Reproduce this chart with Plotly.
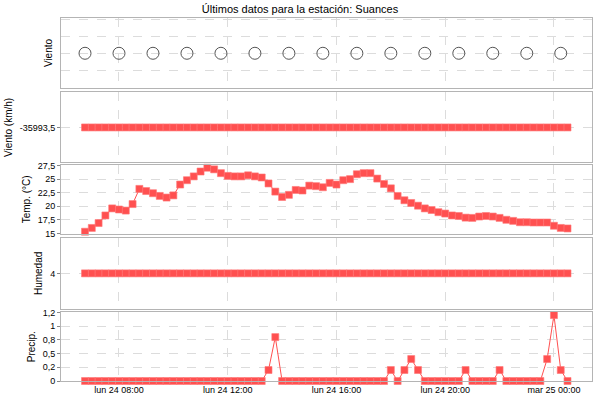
import pandas as pd
import plotly.graph_objects as go
from plotly.subplots import make_subplots

# Datos de la estación (cada 15 minutos)
horas = pd.date_range("2013-06-24 06:45", periods=72, freq="15min")

temperatura = [
    15.3, 16.0, 16.9, 18.3, 19.6, 19.4, 19.2, 20.4, 23.2, 22.8, 22.4, 21.9,
    21.6, 22.0, 24.0, 24.8, 25.5, 26.4, 27.1, 26.8, 26.1, 25.6, 25.5, 25.5,
    25.7, 25.5, 25.3, 24.2, 22.7, 21.7, 22.1, 23.0, 22.9, 23.8, 23.7, 23.5,
    24.3, 24.0, 24.8, 25.0, 25.9, 26.1, 26.1, 25.1, 24.1, 23.3, 21.9, 21.1,
    20.6, 20.1, 19.6, 19.3, 18.9, 18.65, 18.3, 18.2, 17.9, 17.85, 18.1, 18.2,
    18.1, 17.85, 17.5, 17.3, 17.05, 17.05, 17.0, 17.0, 17.0, 16.4, 16.0, 15.9,
]

precipitacion = [
    0, 0, 0, 0, 0, 0, 0, 0, 0, 0, 0, 0,
    0, 0, 0, 0, 0, 0, 0, 0, 0, 0, 0, 0,
    0, 0, 0, 0.2, 0.8, 0, 0, 0, 0, 0, 0, 0,
    0, 0, 0, 0, 0, 0, 0, 0, 0, 0.2, 0, 0.2,
    0.4, 0.2, 0, 0, 0, 0, 0, 0, 0.2, 0, 0, 0,
    0, 0.2, 0, 0, 0, 0, 0, 0, 0.4, 1.2, 0.2, 0,
]

viento_kmh = [
    -35993.5, -35993.5, -35993.5, -35993.5, -35993.5, -35993.5, -35993.5, -35993.5, -35993.5, -35993.5, -35993.5, -35993.5,
    -35993.5, -35993.5, -35993.5, -35993.5, -35993.5, -35993.5, -35993.5, -35993.5, -35993.5, -35993.5, -35993.5, -35993.5,
    -35993.5, -35993.5, -35993.5, -35993.5, -35993.5, -35993.5, -35993.5, -35993.5, -35993.5, -35993.5, -35993.5, -35993.5,
    -35993.5, -35993.5, -35993.5, -35993.5, -35993.5, -35993.5, -35993.5, -35993.5, -35993.5, -35993.5, -35993.5, -35993.5,
    -35993.5, -35993.5, -35993.5, -35993.5, -35993.5, -35993.5, -35993.5, -35993.5, -35993.5, -35993.5, -35993.5, -35993.5,
    -35993.5, -35993.5, -35993.5, -35993.5, -35993.5, -35993.5, -35993.5, -35993.5, -35993.5, -35993.5, -35993.5, -35993.5,
]

humedad = [
    4, 4, 4, 4, 4, 4, 4, 4, 4, 4, 4, 4,
    4, 4, 4, 4, 4, 4, 4, 4, 4, 4, 4, 4,
    4, 4, 4, 4, 4, 4, 4, 4, 4, 4, 4, 4,
    4, 4, 4, 4, 4, 4, 4, 4, 4, 4, 4, 4,
    4, 4, 4, 4, 4, 4, 4, 4, 4, 4, 4, 4,
    4, 4, 4, 4, 4, 4, 4, 4, 4, 4, 4, 4,
]

# Dirección del viento (una marca cada 5 registros)
viento_horas = horas[::5]
viento_dir = [0, 0, 0, 0, 0, 0, 0, 0, 0, 0, 0, 0, 0, 0, 0]

x_ticks = ["2013-06-24 08:00", "2013-06-24 12:00", "2013-06-24 16:00",
           "2013-06-24 20:00", "2013-06-25 00:00"]
x_ticktext = ["lun 24 08:00", "lun 24 12:00", "lun 24 16:00",
              "lun 24 20:00", "mar 25 00:00"]

ROJO = "#ff5050"
GRIS = "#b4b4b4"
REJILLA = "#dcdcdc"

fig = make_subplots(rows=5, cols=1, shared_xaxes=True)

fig.add_trace(go.Scatter(x=viento_horas, y=viento_dir, mode="markers",
                         marker=dict(symbol="circle-open", size=12, color="#555555",
                                     line=dict(width=1))), row=1, col=1)

serie = dict(mode="lines+markers", line=dict(color=ROJO, width=1),
             marker=dict(symbol="square", size=7, color=ROJO,
                         line=dict(color="rgba(255,120,120,0.6)", width=1)),
             cliponaxis=False)

fig.add_trace(go.Scatter(x=horas, y=viento_kmh, **serie), row=2, col=1)
fig.add_trace(go.Scatter(x=horas, y=temperatura, **serie), row=3, col=1)
fig.add_trace(go.Scatter(x=horas, y=humedad, **serie), row=4, col=1)
fig.add_trace(go.Scatter(x=horas, y=precipitacion, **serie), row=5, col=1)

dominios = [[0.807, 1.0], [0.602, 0.795], [0.406, 0.595], [0.199, 0.394], [0.0, 0.189]]
eje_y = [
    dict(title_text="Viento", range=[-2.07, 2.1], tickvals=[-1, 0, 1, 2],
         showticklabels=False, ticks=""),
    dict(title_text="Viento (km/h)", range=[-35995.6, -35991.4],
         tickvals=[-35993.5], ticktext=["-35993,5"]),
    dict(title_text="Temp. (°C)", range=[14.95, 27.6],
         tickvals=[15, 17.5, 20, 22.5, 25, 27.5],
         ticktext=["15", "17,5", "20", "22,5", "25", "27,5"]),
    dict(title_text="Humedad", range=[1.9, 6.1], tickvals=[4], ticktext=["4"]),
    dict(title_text="Precip.", range=[0, 1.25],
         tickvals=[0, 0.25, 0.5, 0.75, 1, 1.25],
         ticktext=["0", "0,2", "0,5", "0,8", "1", "1,2"]),
]

for i in range(5):
    opciones = dict(domain=dominios[i], showline=True, mirror=True, linecolor=GRIS,
                    linewidth=1, showgrid=True, gridcolor=REJILLA, griddash="dash",
                    zeroline=False, ticks="outside", ticklen=3, tickcolor="#888888",
                    tickfont=dict(size=9), title_font=dict(size=10),
                    title_standoff=5, automargin=False)
    opciones.update(eje_y[i])
    fig.update_yaxes(row=i + 1, col=1, **opciones)
    fig.update_xaxes(row=i + 1, col=1, domain=[0, 1], showline=True, mirror=True,
                     linecolor=GRIS, linewidth=1, showgrid=True, gridcolor=REJILLA,
                     griddash="dash", zeroline=False, automargin=False,
                     range=["2013-06-24 05:52", "2013-06-25 01:24"],
                     tickvals=x_ticks, ticktext=x_ticktext, tickfont=dict(size=9),
                     showticklabels=(i == 4), ticks="")

fig.update_layout(
    width=600, height=400,
    margin=dict(l=61, r=8, t=18, b=19),
    title=dict(text="Últimos datos para la estación: Suances", x=0.5, xanchor="center",
               y=0.987, yanchor="top", automargin=False,
               font=dict(size=11, color="#000000")),
    font=dict(family="Liberation Sans, Arial, sans-serif", size=10, color="#000000"),
    plot_bgcolor="white", paper_bgcolor="white",
    showlegend=False,
)

# quitar el margen por defecto del <body> para que la figura quede en (0, 0)
fig.write_html("out.html", config={"displayModeBar": False},
               post_script="document.body.style.margin = '0';")
